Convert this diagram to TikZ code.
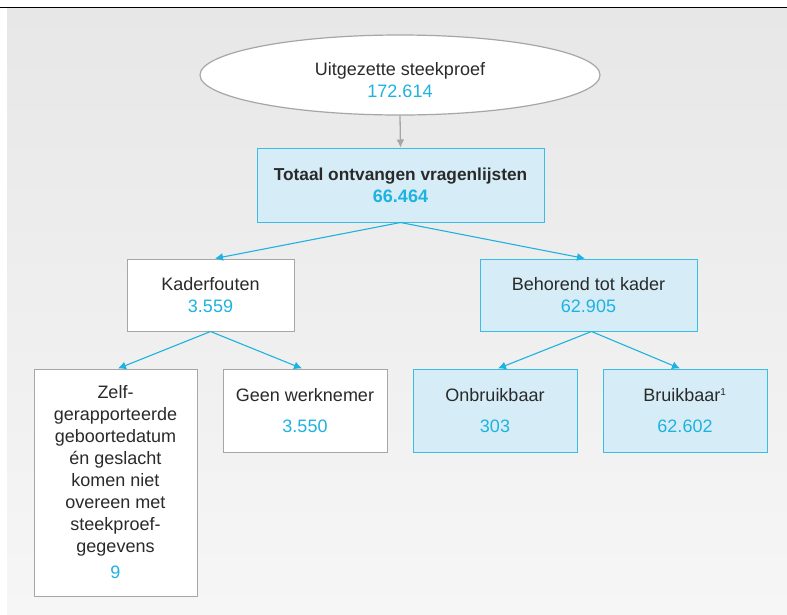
\documentclass[tikz,border=0pt]{standalone}
\usepackage{fontspec}
\setmainfont{Liberation Sans}
\usetikzlibrary{shapes.geometric,arrows.meta,calc}
\definecolor{cy}{HTML}{1EB2E0}
\definecolor{cyline}{HTML}{3BBCE4}
\definecolor{cyfill}{HTML}{D6EDF7}
\definecolor{grline}{HTML}{A6A6A6}
\definecolor{txt}{HTML}{2A2A2A}
\definecolor{bgtop}{HTML}{E7E7E7}
\definecolor{bgbot}{HTML}{F6F6F6}
\tikzset{
  base/.style={font=\fontsize{18pt}{22pt}\selectfont, text=txt, align=center, inner sep=0pt},
  whitebox/.style={base, draw=grline, fill=white, line width=1pt, rectangle},
  bluebox/.style={base, draw=cyline, fill=cyfill, line width=1pt, rectangle},
  conn/.style={draw=cy, line width=1.1pt, -{Latex[length=8pt,width=8pt]}},
  grconn/.style={draw=grline, line width=1.3pt, -{Latex[length=8pt,width=8pt]}},
}
\newcommand{\num}[1]{\textcolor{cy}{#1}}
\begin{document}
\begin{tikzpicture}[x=1pt,y=-1pt]
\useasboundingbox (0,0) rectangle (787,614);
\fill[white] (0,0) rectangle (787,614);
\shade[top color=bgtop, bottom color=bgbot] (7,8) rectangle (787,614);
\draw[black, line width=1.5pt] (0,7.5) -- (787,7.5);

\node[ellipse, draw=grline, fill=white, line width=1.2pt, minimum width=400pt, minimum height=80pt, inner sep=0pt] (e) at (400,75) {};
\node[base] (et) at (400,80) {Uitgezette steekproef\\\num{172.614}};

\node[bluebox, minimum width=287pt, minimum height=74pt] (t) at (400.5,185) {{\fontsize{17.3pt}{22pt}\selectfont\bfseries Totaal ontvangen vragenlijsten}\\{\bfseries\num{66.464}}};

\node[whitebox, minimum width=167pt, minimum height=72pt] (k) at (210.5,295) {Kaderfouten\\\num{3.559}};
\node[bluebox, minimum width=217pt, minimum height=72pt] (b) at (588.5,295) {Behorend tot kader\\\num{62.905}};

\node[whitebox, minimum width=163pt, minimum height=227pt] (z) at (115.5,482.5) {Zelf-\\gerapporteerde\\geboortedatum\\én geslacht\\komen niet\\overeen met\\steekproef-\\gegevens\\[4pt]\num{9}};
\node[whitebox, minimum width=164pt, minimum height=83pt] (g) at (305,410.5) {Geen werknemer\\[9pt]\num{3.550}};
\node[bluebox, minimum width=164pt, minimum height=83pt] (o) at (495,410.5) {Onbruikbaar\\[9pt]\num{303}};
\node[bluebox, minimum width=164pt, minimum height=83pt] (br) at (685,410.5) {Bruikbaar\textsuperscript{\fontsize{10pt}{10pt}\selectfont 1}\\[9pt]\num{62.602}};

\draw[grconn] (e.south) -- (t.north);
\draw[conn] (t.south) -- ($(k.north)+(4.5,0)$);
\draw[conn] (t.south) -- ($(b.north)+(-3.5,0)$);
\draw[conn] (k.south) -- ($(z.north)+(2.5,0)$);
\draw[conn] (k.south) -- ($(g.north)+(-3,0)$);
\draw[conn] ($(b.south)+(3,0)$) -- ($(o.north)+(3,0)$);
\draw[conn] ($(b.south)+(3,0)$) -- ($(br.north)+(-5,0)$);
\end{tikzpicture}
\end{document}
